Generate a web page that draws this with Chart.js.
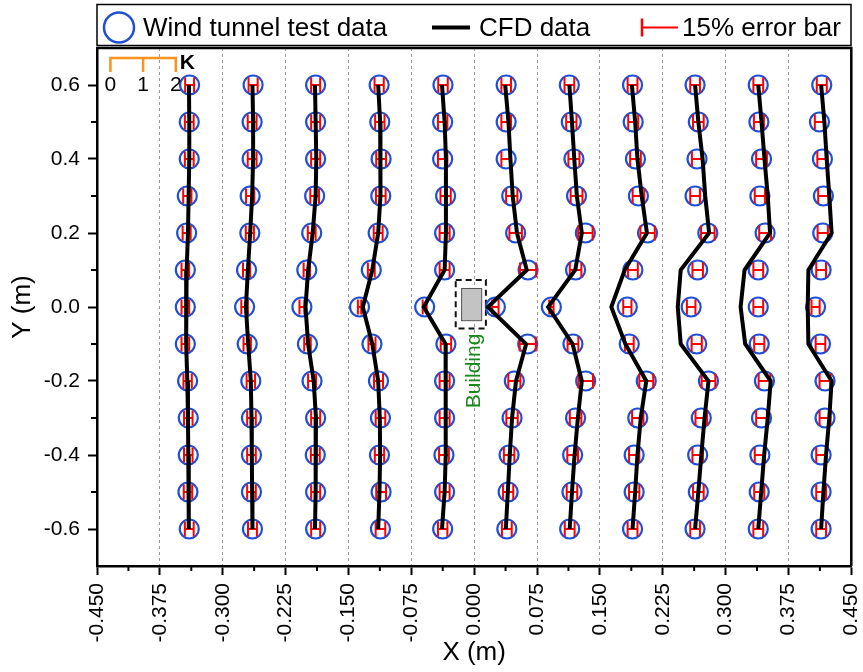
<!DOCTYPE html>
<html>
<head>
<meta charset="utf-8">
<script src="https://cdn.jsdelivr.net/npm/chart.js@4/dist/chart.umd.min.js"></script>
<style>
  html, body { margin: 0; padding: 0; background: #fff; }
</style>
</head>
<body>
<canvas id="kChart" width="863" height="672"></canvas>
<script>
// heights of the measuring points, top to bottom
const yLevels = [0.6, 0.5, 0.4, 0.3, 0.2, 0.1, 0.0, -0.1, -0.2, -0.3, -0.4, -0.5, -0.6];
// X position of each profile (K = 0 line)
const baselines = [-0.375, -0.3, -0.225, -0.15, -0.075, 0, 0.075, 0.15, 0.225, 0.3, 0.375];

const xTickValues = [-0.45, -0.375, -0.3, -0.225, -0.15, -0.075, 0, 0.075, 0.15, 0.225, 0.3, 0.375, 0.45];
const xTickLabels = ['-0.450', '-0.375', '-0.300', '-0.225', '-0.150', '-0.075', '0.000', '0.075', '0.150', '0.225', '0.300', '0.375', '0.450'];
const yTickValues = [-0.6, -0.4, -0.2, 0, 0.2, 0.4, 0.6];
const yTickLabels = ['-0.6', '-0.4', '-0.2', '0.0', '0.2', '0.4', '0.6'];

// K, wind tunnel test (one row per profile, same order as yLevels)
const kTest = [
  [0.91, 0.90, 0.90, 0.84, 0.82, 0.78, 0.78, 0.78, 0.85, 0.87, 0.87, 0.86, 0.90],
  [0.93, 0.90, 0.90, 0.84, 0.83, 0.73, 0.67, 0.75, 0.86, 0.88, 0.88, 0.88, 0.91],
  [0.92, 0.92, 0.92, 0.89, 0.80, 0.65, 0.50, 0.67, 0.81, 0.92, 0.91, 0.92, 0.92],
  [0.94, 0.96, 1.00, 0.99, 0.91, 0.70, 0.34, 0.72, 0.92, 0.98, 0.95, 1.00, 0.98],
  [0.97, 0.96, 0.96, 1.05, 1.02, 1.02, 0.41, 1.06, 1.02, 1.02, 1.00, 1.02, 0.96],
  [0.98, 0.98, 0.98, 1.15, 1.27, 1.65, 0.65, 1.64, 1.23, 1.16, 1.07, 1.04, 1.00],
  [0.99, 1.05, 1.13, 1.21, 1.48, 1.18, 0.44, 1.10, 1.49, 1.18, 1.09, 1.07, 1.00],
  [1.00, 1.02, 1.09, 1.18, 1.46, 1.01, 0.84, 0.90, 1.42, 1.16, 1.05, 1.05, 1.00],
  [0.99, 1.09, 1.05, 0.99, 1.38, 1.07, 0.87, 1.04, 1.40, 1.18, 1.07, 1.09, 0.99],
  [1.00, 1.02, 1.10, 1.05, 1.21, 1.00, 1.00, 1.03, 1.19, 1.10, 1.05, 1.03, 1.00],
  [1.02, 0.95, 1.04, 1.07, 1.05, 1.00, 0.83, 0.98, 1.12, 1.12, 1.00, 1.00, 1.00]
];

// K, CFD
const kCfd = [
  [0.89, 0.90, 0.90, 0.88, 0.86, 0.82, 0.80, 0.81, 0.84, 0.86, 0.87, 0.88, 0.89],
  [0.91, 0.93, 0.93, 0.90, 0.84, 0.77, 0.71, 0.78, 0.86, 0.88, 0.89, 0.90, 0.91],
  [0.90, 0.92, 0.94, 0.92, 0.83, 0.69, 0.61, 0.69, 0.86, 0.93, 0.93, 0.91, 0.90],
  [0.91, 0.97, 0.99, 0.97, 0.91, 0.73, 0.44, 0.73, 0.91, 0.96, 0.97, 0.95, 0.91],
  [0.94, 1.02, 1.06, 1.06, 1.06, 1.02, 0.38, 1.05, 1.05, 1.06, 1.05, 1.02, 0.94],
  [0.95, 1.05, 1.11, 1.18, 1.31, 1.61, 0.42, 1.59, 1.28, 1.16, 1.09, 1.03, 0.97],
  [0.99, 1.07, 1.14, 1.22, 1.37, 1.17, 0.34, 1.09, 1.37, 1.25, 1.15, 1.07, 1.00],
  [0.98, 1.08, 1.15, 1.28, 1.44, 0.76, 0.35, 0.78, 1.42, 1.25, 1.15, 1.08, 1.00],
  [0.99, 1.09, 1.22, 1.30, 1.42, 0.55, 0.46, 0.55, 1.40, 1.28, 1.18, 1.09, 0.99],
  [1.00, 1.10, 1.19, 1.29, 1.36, 0.58, 0.46, 0.60, 1.38, 1.29, 1.18, 1.09, 1.00],
  [1.00, 1.10, 1.17, 1.25, 1.32, 0.61, 0.59, 0.61, 1.32, 1.25, 1.15, 1.07, 1.00]
];

const K_SCALE = 0.039;      // metres of X per unit of K
const ERR = 0.15;           // 15% error bar
const kKeyStart = -0.434;   // where the K = 0 mark of the little K scale sits
const kKeyValues = [0, 1, 2];
const building = { x0: -0.015, x1: 0.009, y0: -0.037, y1: 0.05 };
const buildingZone = { x0: -0.022, x1: 0.014, y0: -0.058, y1: 0.073 };

const FONT = 'Arial, "Liberation Sans", sans-serif';
const BLUE = '#1f4fd6';
const RED = '#ff0000';
const ORANGE = '#f7931e';

const toPoints = (row, i) => row.map((k, j) => ({ x: baselines[i] + k * K_SCALE, y: yLevels[j], k }));

const datasets = [];
kTest.forEach((row, i) => {
  datasets.push({
    kind: 'test',
    data: toPoints(row, i),
    showLine: false,
    pointRadius: 9.5,
    pointBorderWidth: 2.2,
    pointBorderColor: BLUE,
    pointBackgroundColor: 'rgba(0,0,0,0)',
    order: 2
  });
});
kCfd.forEach((row, i) => {
  datasets.push({
    kind: 'cfd',
    data: toPoints(row, i),
    showLine: true,
    pointRadius: 0,
    borderColor: '#000',
    borderWidth: 4,
    borderJoinStyle: 'miter',
    tension: 0,
    order: 1
  });
});

// red error bars, drawn right after each test dataset so the CFD lines stay on top
const errorBars = {
  id: 'errorBars',
  afterDatasetDraw(chart, args) {
    const ds = chart.data.datasets[args.index];
    if (ds.kind !== 'test') return;
    const { ctx, scales: { x, y } } = chart;
    ctx.save();
    ctx.strokeStyle = RED;
    ctx.lineWidth = 2;
    ds.data.forEach(p => {
      const half = ERR * p.k * K_SCALE;
      const xl = x.getPixelForValue(p.x - half);
      const xr = x.getPixelForValue(p.x + half);
      const py = y.getPixelForValue(p.y);
      ctx.beginPath();
      ctx.moveTo(xl, py); ctx.lineTo(xr, py);
      ctx.moveTo(xl, py - 7.5); ctx.lineTo(xl, py + 7.5);
      ctx.moveTo(xr, py - 7.5); ctx.lineTo(xr, py + 7.5);
      ctx.stroke();
    });
    ctx.restore();
  }
};

const buildingPlugin = {
  id: 'building',
  beforeDatasetsDraw(chart) {
    const { ctx, scales: { x, y } } = chart;
    ctx.save();
    // dashed zone
    ctx.setLineDash([6, 4]);
    ctx.strokeStyle = '#111';
    ctx.lineWidth = 2;
    const zx = x.getPixelForValue(buildingZone.x0), zy = y.getPixelForValue(buildingZone.y1);
    ctx.strokeRect(zx, zy, x.getPixelForValue(buildingZone.x1) - zx, y.getPixelForValue(buildingZone.y0) - zy);
    ctx.setLineDash([]);
    // the building itself
    const bx = x.getPixelForValue(building.x0), by = y.getPixelForValue(building.y1);
    ctx.fillStyle = '#c3c3c3';
    ctx.strokeStyle = '#555';
    ctx.lineWidth = 1;
    ctx.fillRect(bx, by, x.getPixelForValue(building.x1) - bx, y.getPixelForValue(building.y0) - by);
    ctx.strokeRect(bx, by, x.getPixelForValue(building.x1) - bx, y.getPixelForValue(building.y0) - by);
    // label
    ctx.translate(x.getPixelForValue(0), y.getPixelForValue(-0.173));
    ctx.rotate(-Math.PI / 2);
    ctx.fillStyle = '#17891a';
    ctx.font = '21px ' + FONT;
    ctx.textAlign = 'center';
    ctx.textBaseline = 'middle';
    ctx.fillText('Building', 0, 0);
    ctx.restore();
  }
};

const frameAndKeys = {
  id: 'frameAndKeys',
  afterDraw(chart) {
    const { ctx, chartArea: a, scales: { x, y } } = chart;
    ctx.save();

    // top and right side of the plot box
    ctx.strokeStyle = '#000';
    ctx.lineWidth = 2.5;
    ctx.beginPath();
    ctx.moveTo(a.left, a.top); ctx.lineTo(a.right, a.top); ctx.lineTo(a.right, a.bottom);
    ctx.stroke();

    // minor ticks
    ctx.lineWidth = 2;
    ctx.beginPath();
    for (let i = 0; i < xTickValues.length - 1; i++) {
      const px = x.getPixelForValue((xTickValues[i] + xTickValues[i + 1]) / 2);
      ctx.moveTo(px, a.bottom); ctx.lineTo(px, a.bottom + 5);
    }
    for (let i = 0; i < yTickValues.length - 1; i++) {
      const py = y.getPixelForValue((yTickValues[i] + yTickValues[i + 1]) / 2);
      ctx.moveTo(a.left, py); ctx.lineTo(a.left - 6, py);
    }
    ctx.stroke();

    // K scale key
    const kx = kKeyValues.map(k => x.getPixelForValue(kKeyStart + k * K_SCALE));
    const kTop = y.getPixelForValue(0.673), kBot = y.getPixelForValue(0.635);
    ctx.strokeStyle = ORANGE;
    ctx.lineWidth = 2.5;
    ctx.beginPath();
    ctx.moveTo(kx[0], kBot); ctx.lineTo(kx[0], kTop); ctx.lineTo(kx[kx.length - 1], kTop); ctx.lineTo(kx[kx.length - 1], kBot);
    kx.slice(1, -1).forEach(px => { ctx.moveTo(px, kTop); ctx.lineTo(px, kBot); });
    ctx.stroke();
    ctx.fillStyle = '#000';
    ctx.font = '21px ' + FONT;
    ctx.textAlign = 'center';
    ctx.textBaseline = 'middle';
    kKeyValues.forEach((k, i) => ctx.fillText(String(k), kx[i], y.getPixelForValue(0.6)));
    ctx.font = 'bold 21px ' + FONT;
    ctx.textAlign = 'left';
    ctx.fillText('K', kx[kx.length - 1] + 4, kTop + 5);

    // legend box
    ctx.strokeStyle = '#000';
    ctx.lineWidth = 1.5;
    ctx.strokeRect(97, 4.5, 754, 41);
    const ly = 27.5;
    ctx.strokeStyle = BLUE;
    ctx.lineWidth = 2.5;
    ctx.beginPath();
    ctx.arc(119, ly, 15, 0, Math.PI * 2);
    ctx.stroke();
    ctx.strokeStyle = '#000';
    ctx.lineWidth = 4;
    ctx.beginPath();
    ctx.moveTo(432, ly); ctx.lineTo(470, ly);
    ctx.stroke();
    ctx.strokeStyle = RED;
    ctx.lineWidth = 2;
    ctx.beginPath();
    ctx.moveTo(642, ly); ctx.lineTo(678, ly);
    ctx.stroke();
    ctx.lineWidth = 2.5;
    ctx.beginPath();
    ctx.moveTo(642, ly - 9); ctx.lineTo(642, ly + 9);
    ctx.stroke();
    ctx.fillStyle = '#000';
    ctx.font = '26px ' + FONT;
    ctx.textBaseline = 'middle';
    ctx.fillText('Wind tunnel test data', 143, ly + 1);
    ctx.fillText('CFD data', 479, ly + 1);
    ctx.fillText('15% error bar', 682, ly + 1);

    ctx.restore();
  }
};

new Chart(document.getElementById('kChart').getContext('2d'), {
  type: 'scatter',
  data: { datasets },
  options: {
    responsive: false,
    animation: false,
    layout: { padding: { top: 48, right: 10, left: 0, bottom: 0 } },
    plugins: {
      legend: { display: false },
      tooltip: { enabled: false }
    },
    scales: {
      x: {
        type: 'linear',
        min: -0.45,
        max: 0.45,
        afterBuildTicks: s => { s.ticks = xTickValues.map(v => ({ value: v })); },
        afterFit: s => { s.height = 106; s.paddingLeft = 0; s.paddingRight = 0; },
        ticks: {
          callback: (v, i) => xTickLabels[i],
          minRotation: 90,
          maxRotation: 90,
          color: '#000',
          padding: 8,
          font: { family: FONT, size: 21 }
        },
        grid: {
          color: c => (c.tick && c.tick.value > -0.44 && c.tick.value < 0.44) ? '#999' : 'rgba(0,0,0,0)',
          lineWidth: 1,
          tickLength: 9,
          tickWidth: 2,
          tickColor: '#000'
        },
        border: { color: '#000', width: 2.5, dash: [3, 3] },
        title: {
          display: true,
          text: 'X (m)',
          color: '#000',
          font: { family: FONT, size: 26 },
          padding: { top: 0, bottom: 4 }
        }
      },
      y: {
        type: 'linear',
        min: -0.7,
        max: 0.7,
        afterBuildTicks: s => { s.ticks = yTickValues.map(v => ({ value: v })); },
        afterFit: s => { s.width = 97; s.paddingTop = 0; s.paddingBottom = 0; },
        ticks: {
          callback: (v, i) => yTickLabels[i],
          color: '#000',
          padding: 8,
          font: { family: FONT, size: 21 }
        },
        grid: {
          drawOnChartArea: false,
          tickLength: 9,
          tickWidth: 2,
          tickColor: '#000'
        },
        border: { color: '#000', width: 2.5 },
        title: {
          display: true,
          text: 'Y (m)',
          color: '#000',
          font: { family: FONT, size: 26 },
          padding: { top: 7, bottom: 0 }
        }
      }
    }
  },
  plugins: [errorBars, buildingPlugin, frameAndKeys]
});
</script>
</body>
</html>
